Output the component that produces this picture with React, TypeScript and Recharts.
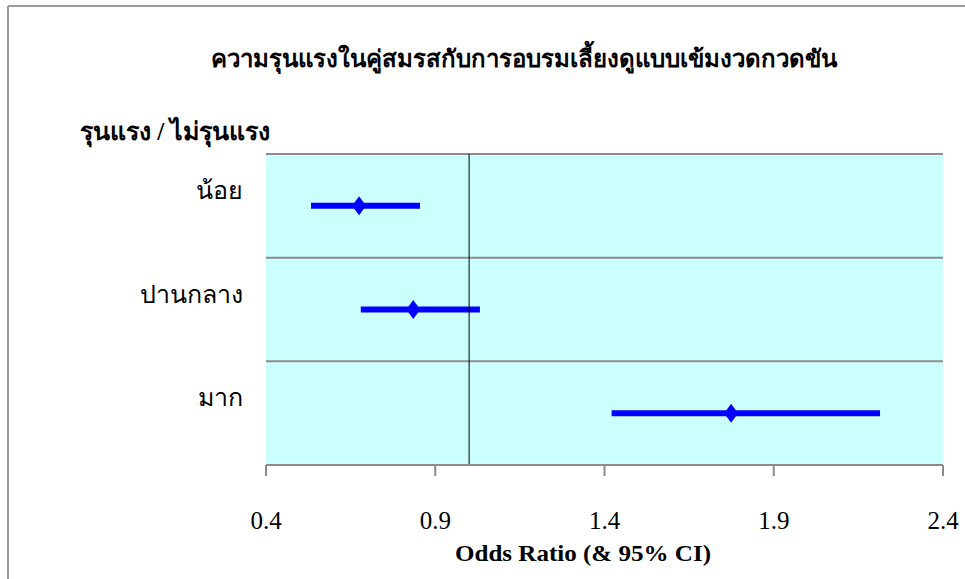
import { ScatterChart, Scatter, XAxis, YAxis, ErrorBar, ReferenceLine, ReferenceArea } from 'recharts';

const categories = ['น้อย', 'ปานกลาง', 'มาก'];
const oddsRatio = [0.675, 0.835, 1.774];
const ciLow = [0.533, 0.68, 1.421];
const ciHigh = [0.855, 1.032, 2.214];
const xTicks = [0.4, 0.9, 1.4, 1.9, 2.4];

const title = 'ความรุนแรงในคู่สมรสกับการอบรมเลี้ยงดูแบบเข้มงวดกวดขัน';
const subtitle = 'รุนแรง / ไม่รุนแรง';
const xTitle = 'Odds Ratio (& 95% CI)';

const FONT = '"Liberation Serif", "Times New Roman", serif';
const BLUE = '#0000FF';
const GRID = '#8c8c8c';

const chartData = categories.map((name, i) => ({
  name,
  row: i + 0.5,
  or: oddsRatio[i],
  err: [oddsRatio[i] - ciLow[i], ciHigh[i] - oddsRatio[i]],
}));

function Diamond({ cx, cy }: { cx?: number; cy?: number }) {
  if (cx == null || cy == null) return null;
  return <polygon points={`${cx},${cy - 9.5} ${cx + 7},${cy} ${cx},${cy + 9.5} ${cx - 7},${cy}`} fill={BLUE} />;
}

function CategoryTick({ x, y, payload }: any) {
  const idx = Math.floor(payload.value);
  return (
    <text x={x - 15} y={y - 7} textAnchor="end" fontFamily={FONT} fontSize={25} fill="#000">
      {categories[idx]}
    </text>
  );
}

export default function App() {
  return (
    <div style={{ position: 'absolute', left: 0, top: 0, width: 965, height: 579, overflow: 'hidden', background: '#fff' }}>
      <ScatterChart width={965} height={579} margin={{ top: 154, right: 22, bottom: 54, left: 126 }}>
        <XAxis
          type="number"
          dataKey="or"
          domain={[0.4, 2.4]}
          ticks={xTicks}
          allowDataOverflow
          height={60}
          stroke={GRID}
          strokeWidth={2}
          tickSize={11}
          tickMargin={35}
          tick={{ fill: '#000', fontSize: 25, fontFamily: FONT }}
          tickFormatter={(v: number) => v.toFixed(1)}
        />
        <YAxis
          type="number"
          dataKey="row"
          domain={[0, 3]}
          ticks={[0.5, 1.5, 2.5]}
          reversed
          width={140}
          axisLine={false}
          tickLine={false}
          tick={<CategoryTick />}
        />
        <ReferenceArea x1={0.4} x2={2.4} y1={0} y2={3} fill="#CCFFFF" fillOpacity={1} stroke="none" />
        <ReferenceLine y={0} stroke={GRID} strokeWidth={2} />
        <ReferenceLine y={1} stroke={GRID} strokeWidth={2} />
        <ReferenceLine y={2} stroke={GRID} strokeWidth={2} />
        <Scatter data={chartData} fill={BLUE} shape={<Diamond />} isAnimationActive={false}>
          <ErrorBar dataKey="err" direction="x" width={0} stroke={BLUE} strokeWidth={6} />
        </Scatter>
        <ReferenceLine x={1} stroke="#000" strokeWidth={1} />
      </ScatterChart>
      <svg width={965} height={579} style={{ position: 'absolute', left: 0, top: 0, pointerEvents: 'none' }}>
        <line x1={8} y1={6} x2={965} y2={6} stroke="#9a9a9a" strokeWidth={2} />
        <line x1={8} y1={6} x2={8} y2={579} stroke="#9a9a9a" strokeWidth={2} />
        <text x={524} y={67} textAnchor="middle" fontFamily={FONT} fontSize={24} fontWeight="bold" fill="#000">
          {title}
        </text>
        <text x={80} y={140} textAnchor="start" fontFamily={FONT} fontSize={25} fontWeight="bold" fill="#000">
          {subtitle}
        </text>
        <text
          x={583}
          y={561}
          textAnchor="middle"
          fontFamily={FONT}
          fontSize={24}
          fontWeight="bold"
          fill="#000"
          textLength={256}
          lengthAdjust="spacingAndGlyphs"
        >
          {xTitle}
        </text>
      </svg>
    </div>
  );
}
